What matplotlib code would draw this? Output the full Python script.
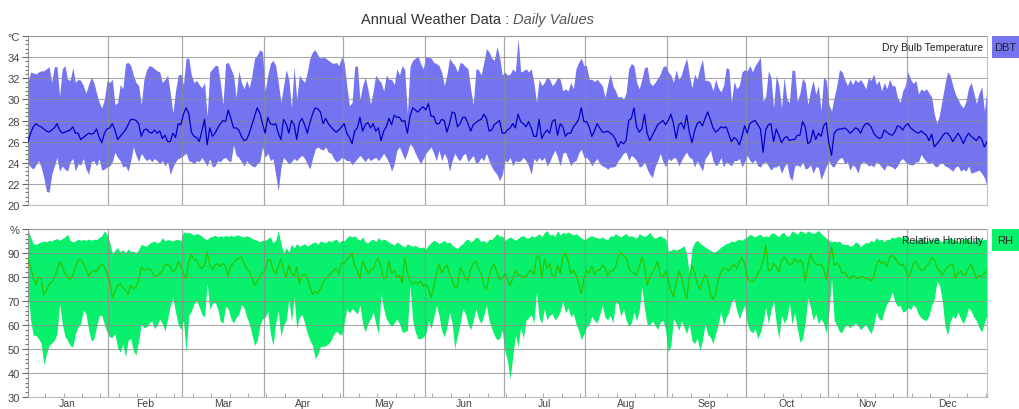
import numpy as np
import matplotlib
matplotlib.use("Agg")
import matplotlib.pyplot as plt
from matplotlib.ticker import MultipleLocator
from matplotlib.patches import Rectangle

months = ["Jan", "Feb", "Mar", "Apr", "May", "Jun", "Jul", "Aug", "Sep", "Oct", "Nov", "Dec"]
days_in_month = [31, 28, 31, 30, 31, 30, 31, 31, 30, 31, 30, 31]

# Dry bulb temperature, daily max / mean / min (degC)
dbt_max = [
    31.6,32.6,32.5,32.4,32.6,32.7,32.7,32.9,33.1,31.6,33.1,33.1,30.3,32.9,33.2,31.9,31.8,33.0,31.6,31.9,31.8,31.3,30.6,31.4,32.1,31.6,30.6,29.7,29.2,30.0,31.8,
    31.6,31.9,29.5,29.7,31.4,31.0,33.4,33.5,33.2,32.3,31.6,31.3,29.5,31.9,32.8,33.2,33.1,32.9,32.7,32.6,31.6,31.9,32.3,30.6,28.7,30.8,32.3,32.4,
    31.4,33.9,33.9,32.3,31.6,31.8,31.4,31.1,31.6,28.4,32.6,32.9,33.2,33.2,31.6,29.5,33.4,33.5,32.9,32.3,30.2,32.7,31.6,31.0,31.8,31.1,32.3,33.9,34.2,34.7,34.5,
    30.8,32.3,33.4,33.7,33.2,31.6,29.7,31.3,32.8,31.9,29.2,33.1,30.0,32.3,31.9,31.6,32.6,33.9,34.5,34.7,34.2,33.9,34.0,33.9,33.7,33.5,33.4,33.5,33.2,34.0,
    33.5,31.3,29.4,29.7,33.1,33.2,30.0,31.3,32.1,31.0,29.5,30.8,32.3,31.9,31.6,30.8,32.3,31.9,31.9,31.4,32.9,32.3,33.2,32.8,28.6,33.1,33.7,33.9,34.1,33.4,32.9,
    34.0,34.0,33.9,33.5,33.4,33.2,32.6,31.3,32.3,33.9,33.5,33.2,32.6,33.5,33.4,33.1,32.9,31.0,29.5,32.9,32.8,32.3,33.5,34.8,34.5,33.9,33.7,35.0,34.0,32.3,
    32.6,32.3,32.4,32.9,32.6,35.8,32.6,32.7,32.9,32.6,32.9,31.6,29.7,31.9,31.3,31.6,32.1,31.9,31.3,31.6,32.1,31.9,30.8,31.0,30.8,31.6,31.0,32.9,33.5,33.9,33.2,
    33.2,31.9,31.9,31.7,31.9,31.6,31.3,30.2,31.4,32.4,31.3,30.8,30.2,30.3,30.0,30.6,32.9,33.4,33.2,31.6,31.0,31.9,33.0,33.1,31.6,31.3,31.6,32.0,32.4,33.1,33.2,
    32.6,32.3,31.6,32.8,31.9,32.3,33.2,33.9,32.3,31.1,32.4,31.9,33.0,33.8,31.8,31.8,31.6,30.8,31.9,31.1,30.7,31.3,33.0,32.9,29.7,31.7,31.0,31.3,32.6,32.8,
    32.7,33.2,32.6,33.2,33.6,34.0,29.8,30.3,32.7,32.1,29.2,32.3,31.3,29.2,32.1,30.0,29.7,32.8,32.7,29.8,30.6,32.0,31.6,29.5,30.8,31.8,30.5,31.3,28.9,32.1,31.8,
    29.5,28.9,30.2,31.3,32.8,32.6,31.9,31.3,31.9,31.4,31.9,31.6,31.9,31.5,31.0,32.1,31.8,32.4,31.4,31.8,30.8,31.6,31.0,31.9,31.3,31.3,30.2,29.7,30.8,31.3,
    32.6,31.9,31.5,31.8,30.5,31.0,30.8,31.0,30.6,30.2,28.6,27.7,28.6,30.0,31.4,32.6,32.3,31.3,30.5,30.0,29.5,29.2,29.8,31.1,31.6,30.6,29.6,30.6,31.2,28.9,31.0,
]
dbt_mean = [
    26.0,26.8,27.4,27.7,27.5,27.4,27.2,27.0,26.9,27.1,27.3,27.7,27.1,26.8,26.9,27.0,27.1,27.4,26.8,26.8,26.2,26.4,26.6,26.8,26.7,26.8,27.2,26.4,25.9,26.8,27.2,
    27.3,27.7,27.1,26.2,26.5,26.8,27.1,27.6,28.1,28.1,28.0,27.7,26.5,27.1,27.2,26.9,26.8,27.1,26.8,27.0,26.3,26.6,26.0,26.0,26.8,26.4,27.7,27.6,
    28.6,29.2,28.7,26.9,26.5,26.4,26.0,27.0,28.1,25.7,27.3,26.5,26.8,27.3,27.7,28.0,27.9,29.0,28.2,27.3,27.3,27.1,26.5,26.1,26.2,26.8,27.6,28.4,29.2,28.7,27.7,
    26.8,28.3,27.7,27.6,27.7,26.8,26.2,28.1,27.7,26.8,28.0,27.6,26.2,27.8,28.2,27.6,26.8,27.8,28.6,29.2,29.1,28.8,27.7,28.2,27.7,27.4,27.1,26.9,27.1,27.4,
    27.7,26.8,26.4,25.8,27.0,27.3,28.3,27.0,27.6,27.8,27.3,27.7,27.0,27.3,26.1,27.0,27.4,28.2,27.6,28.5,28.3,28.3,27.9,28.0,26.8,28.4,29.2,29.0,28.8,29.1,29.3,
    29.0,29.6,28.4,28.4,27.7,27.7,28.1,28.0,26.9,27.7,28.8,28.7,27.4,27.7,28.3,28.3,27.7,27.0,27.6,27.8,28.0,28.1,28.6,28.2,27.0,27.1,27.6,27.8,28.0,26.8,
    26.8,27.1,27.3,27.7,27.3,28.6,27.9,27.7,27.4,27.9,27.3,26.5,26.5,28.1,26.3,26.8,27.1,26.8,27.9,28.1,26.6,27.7,27.4,26.5,26.8,26.8,27.4,27.7,28.1,29.2,27.9,
    27.9,27.4,26.5,27.0,27.7,27.3,26.9,26.9,27.0,26.8,26.6,26.2,25.5,26.0,25.8,26.1,28.0,28.2,29.2,27.4,26.9,27.2,28.6,26.8,26.1,26.6,27.1,27.6,27.8,28.0,27.6,
    28.0,28.6,27.7,26.3,27.6,27.8,27.2,28.5,26.9,25.9,27.0,27.7,27.9,27.5,28.2,28.8,28.1,27.3,26.9,27.1,27.4,27.3,27.4,26.7,26.0,26.4,26.2,25.7,26.5,27.5,
    26.8,27.7,27.9,28.0,27.6,27.2,25.0,27.1,27.6,27.7,26.0,27.2,26.6,25.9,26.3,26.5,26.1,26.2,26.2,26.6,26.6,27.9,27.4,25.8,26.0,27.1,26.2,26.8,26.5,27.5,27.8,
    25.8,24.7,26.8,27.1,27.2,27.2,27.3,27.1,26.8,27.0,27.3,27.2,26.8,27.4,27.7,27.7,27.4,26.8,26.5,26.3,26.4,27.1,26.9,26.7,26.6,26.9,27.5,27.4,27.1,27.5,
    27.7,27.3,27.1,26.9,26.8,27.0,26.8,26.6,26.1,26.7,25.5,25.8,26.1,26.5,26.8,26.8,26.5,26.0,26.4,26.8,26.4,25.8,26.4,26.8,26.5,26.3,26.1,26.5,26.2,25.5,26.0,
]
dbt_min = [
    23.9,23.6,23.4,23.8,24.2,23.6,22.6,21.3,21.2,22.9,23.7,24.5,23.2,23.7,23.4,23.2,24.1,24.4,23.2,23.9,23.8,24.4,23.4,22.9,24.1,24.2,23.7,24.4,23.3,23.4,23.6,
    23.7,24.1,25.0,24.5,24.2,23.6,23.7,23.2,24.2,25.5,24.7,24.1,24.9,24.5,24.2,24.4,24.1,24.4,24.2,23.9,24.2,23.7,24.1,22.9,23.6,24.1,24.4,24.5,
    24.7,24.9,24.2,24.1,23.9,24.2,24.1,24.5,24.1,23.7,24.4,23.6,23.7,24.2,24.1,24.4,24.5,24.2,24.1,25.7,24.7,24.5,24.1,23.7,24.2,23.9,23.7,23.6,23.9,24.1,25.5,
    24.5,24.9,24.2,24.4,22.9,21.3,23.6,24.5,24.2,23.9,24.1,24.4,24.2,24.5,24.7,24.4,23.9,23.4,24.4,25.3,25.5,25.3,25.2,25.5,25.0,24.9,24.4,24.1,24.2,24.5,
    24.4,24.2,24.2,23.8,24.1,24.4,24.7,24.4,24.1,24.5,24.2,24.4,24.5,24.2,24.5,24.9,24.5,24.0,23.2,23.9,25.2,25.5,24.9,24.3,25.0,25.8,25.5,24.9,24.4,23.9,24.4,
    24.9,25.2,25.5,24.9,24.2,25.2,24.2,24.9,24.4,23.2,24.2,24.9,24.4,24.2,24.7,24.9,24.1,24.4,24.7,23.9,24.1,24.5,24.2,24.9,24.2,23.6,23.2,22.9,22.3,22.9,
    24.2,24.1,24.5,23.7,24.2,24.1,24.2,24.5,24.2,23.7,22.9,24.4,24.1,24.5,24.2,24.5,23.7,24.1,24.7,25.2,24.5,23.7,24.9,25.0,24.4,23.7,24.1,24.2,24.9,25.3,24.5,
    24.5,24.2,23.7,24.1,24.4,23.9,23.7,23.6,23.4,23.6,23.6,23.7,24.2,24.5,24.9,25.0,24.2,24.7,24.5,24.2,23.6,23.7,24.1,23.4,22.9,22.6,23.6,24.2,24.9,24.1,23.6,
    24.4,24.2,24.5,24.4,23.7,24.2,24.7,25.0,24.5,24.4,23.6,24.2,23.7,23.2,24.4,24.7,25.2,24.2,23.7,23.9,24.5,23.6,24.1,23.9,23.7,24.2,24.2,24.4,23.6,24.1,
    24.7,24.2,24.0,24.3,23.7,23.6,24.0,24.1,23.7,23.3,23.6,23.6,23.8,23.0,23.6,24.0,22.7,22.3,23.7,23.8,23.6,24.1,23.4,23.5,23.8,23.0,23.6,23.6,22.4,23.0,23.7,
    24.2,23.7,23.6,24.1,24.4,24.5,23.9,24.1,23.3,23.8,23.6,23.0,23.9,24.1,24.0,23.7,23.8,23.6,24.1,23.9,23.6,23.3,23.8,23.7,23.6,23.4,23.7,24.2,24.4,24.1,
    23.9,23.8,23.8,24.1,24.1,24.8,24.4,24.1,23.9,24.1,23.7,23.6,23.9,24.0,23.7,23.6,23.4,23.2,23.6,23.7,23.2,23.4,23.2,23.7,23.0,23.1,23.2,23.3,23.0,22.6,21.8,
]

# Relative humidity, daily max / mean / min (%)
rh_max = [
    99.4,96.7,93.9,93.6,94.2,94.6,95.0,94.6,95.3,95.0,95.6,96.0,95.3,96.0,96.7,97.8,95.3,94.6,95.0,95.8,95.3,95.6,95.3,95.8,95.3,95.8,95.6,96.4,97.2,99.2,97.8,
    94.6,89.7,91.1,92.2,90.4,91.4,90.0,91.7,90.6,90.8,90.0,91.4,93.6,93.1,92.8,93.9,94.6,95.0,94.2,94.6,96.4,95.0,95.6,95.3,95.0,95.6,95.6,95.0,
    98.8,98.4,98.6,98.1,97.5,98.1,97.8,96.9,96.0,95.6,96.7,96.9,97.4,96.7,97.2,96.7,97.4,96.9,97.4,96.9,97.4,97.5,96.9,96.7,97.2,96.7,96.1,95.6,95.3,94.7,95.3,
    95.3,96.0,96.7,94.2,95.3,99.2,93.9,90.0,92.2,90.4,93.6,92.2,93.9,92.8,93.3,93.9,92.8,93.6,94.2,94.6,93.6,95.0,94.6,94.2,95.3,94.7,95.3,95.8,94.2,95.3,
    95.0,96.4,97.2,96.7,97.2,96.0,95.3,96.7,94.6,94.2,95.3,95.8,94.7,96.4,95.3,95.8,95.3,94.4,93.9,93.3,94.6,93.9,93.1,92.5,93.9,93.2,92.8,93.2,92.5,92.2,92.5,
    91.7,93.2,94.4,95.3,94.7,93.9,94.6,95.3,94.2,94.6,93.3,92.5,91.8,93.1,93.9,95.3,95.8,94.6,95.3,96.7,96.1,94.7,95.3,94.2,95.8,95.6,96.7,98.1,96.9,97.2,
    95.3,96.0,96.7,96.0,95.3,96.1,96.9,97.2,96.4,96.1,97.2,96.7,97.2,98.1,96.7,98.4,99.4,97.5,97.8,96.9,99.2,97.5,98.6,98.1,98.8,98.1,97.5,98.1,97.2,96.4,95.6,
    96.0,96.9,97.2,96.7,96.4,96.0,96.7,95.8,95.6,97.2,96.9,98.1,97.2,96.7,97.5,98.1,96.9,97.2,96.7,96.1,98.1,97.4,96.9,97.5,98.6,96.9,96.1,96.7,97.2,96.4,96.0,
    90.8,91.1,91.7,91.1,91.7,92.2,93.1,89.7,81.4,91.8,94.4,95.3,94.2,93.3,92.5,91.8,91.1,90.4,90.6,91.4,92.5,93.2,93.9,94.2,95.0,94.7,95.3,95.8,95.3,96.1,
    96.7,97.8,97.2,96.7,97.5,97.8,96.7,97.2,96.7,98.1,98.4,97.5,96.7,98.4,98.4,96.9,97.2,99.2,98.6,97.8,99.2,98.9,98.1,99.2,98.6,98.1,98.6,99.4,98.1,97.2,96.1,
    95.3,94.6,95.0,94.6,95.0,93.6,93.6,93.6,92.8,93.1,94.6,94.2,92.5,93.6,94.4,94.2,95.3,94.7,96.4,95.3,95.8,94.7,95.8,95.6,96.7,96.1,96.9,96.7,96.1,97.2,
    96.0,94.6,95.3,95.8,95.3,96.4,95.8,94.6,95.6,95.8,95.3,96.4,95.3,94.6,95.8,95.3,96.4,95.8,95.3,94.6,95.8,95.6,96.4,95.8,95.0,94.6,96.0,96.4,95.3,95.8,95.3,
]
rh_mean = [
    87.6,84.2,79.7,76.9,80.0,79.3,72.4,74.4,76.9,77.9,79.7,82.8,86.3,84.4,81.4,80.7,78.6,80.7,84.2,86.9,87.2,85.8,83.5,80.3,82.1,82.8,82.1,84.4,85.3,84.2,81.4,
    78.6,71.4,73.8,76.5,77.2,75.6,74.7,72.8,76.5,75.1,75.8,78.6,84.2,83.1,83.1,83.5,82.5,80.0,80.7,81.4,82.8,84.9,85.3,84.4,82.1,83.1,86.3,84.9,
    81.4,79.3,86.3,89.4,87.2,87.2,84.4,83.5,84.9,90.4,84.9,83.1,84.9,85.6,84.4,85.6,84.4,80.7,84.4,85.8,87.2,87.8,88.3,85.6,83.5,82.1,79.7,76.5,78.3,80.3,81.7,
    82.8,86.9,87.2,83.1,81.4,84.4,87.6,82.8,80.0,84.9,81.7,80.3,84.2,77.2,80.7,81.1,79.7,75.8,72.8,73.8,73.3,75.1,77.9,79.3,80.3,81.4,82.8,83.5,81.4,85.8,
    85.8,87.2,88.3,90.0,84.2,82.8,79.3,86.7,84.4,81.4,82.8,83.1,86.3,87.6,84.2,79.3,79.7,86.7,81.4,82.8,79.7,80.7,77.5,88.1,81.7,78.3,77.2,77.8,77.2,78.3,76.1,
    76.9,75.1,71.4,75.6,81.4,85.3,81.7,83.5,84.9,81.4,78.6,75.8,75.8,83.9,82.1,79.3,78.6,83.1,85.6,86.7,83.5,81.4,76.5,74.7,80.3,83.9,85.3,81.7,78.9,79.7,
    81.4,78.9,76.5,79.3,82.8,80.7,80.7,79.7,80.0,82.1,82.8,81.1,88.3,89.0,79.3,87.6,83.5,85.6,80.7,80.0,84.9,81.4,88.1,90.0,86.7,81.4,82.8,80.7,77.2,72.8,79.3,
    82.8,81.4,84.4,81.1,82.8,82.8,84.9,83.9,80.3,82.5,82.5,84.2,88.1,90.3,89.0,88.1,84.2,82.1,81.7,80.7,84.4,88.3,84.4,76.5,80.0,81.7,84.2,86.3,80.7,80.0,82.5,
    79.3,74.4,71.7,77.5,82.5,80.0,75.1,71.0,79.3,84.9,82.1,77.2,74.7,78.3,81.1,78.9,73.1,70.6,73.1,78.9,82.1,83.9,83.5,82.5,84.2,85.3,83.5,86.3,88.1,85.6,
    80.0,78.3,77.9,78.9,81.4,83.1,86.9,93.2,82.8,82.8,85.8,84.2,82.1,86.7,88.3,86.9,85.0,85.6,87.6,86.0,87.2,85.6,78.3,84.9,89.7,86.7,85.6,84.9,85.3,83.5,78.9,
    85.6,92.5,84.9,85.8,84.4,81.4,82.1,80.3,79.3,80.7,80.0,79.3,80.0,80.0,79.3,79.3,78.3,80.0,84.9,87.2,85.6,86.4,84.4,88.3,88.9,88.1,86.3,84.9,85.3,83.5,
    80.0,81.7,85.3,86.7,84.4,82.8,82.8,84.4,85.6,88.1,87.2,84.0,82.8,80.7,82.5,84.2,84.9,85.3,79.3,81.7,82.5,80.7,81.4,84.0,85.3,82.5,79.3,80.7,80.3,81.4,82.5,
]
rh_min = [
    74.0,62.0,55.7,55.7,54.3,52.5,43.5,48.0,51.5,52.5,53.6,56.4,68.9,60.6,55.3,53.6,51.5,50.8,56.4,59.2,60.6,66.1,64.7,58.1,53.3,54.3,59.2,64.0,64.0,60.3,57.1,
    55.0,55.0,56.4,50.6,48.7,52.2,46.7,53.6,54.3,49.4,47.4,53.6,60.6,58.9,59.2,60.8,61.7,58.5,59.9,62.6,60.6,57.5,62.6,68.2,71.4,65.4,60.3,58.1,
    61.9,48.7,64.0,65.8,68.9,70.0,67.5,64.4,63.3,77.5,66.4,69.2,69.6,66.8,61.7,60.8,67.8,66.8,62.6,60.8,63.1,64.4,68.6,67.2,63.3,60.6,56.1,51.5,53.6,59.9,62.6,
    63.3,65.8,56.4,51.5,60.6,65.8,55.3,59.9,61.9,71.0,61.3,71.7,58.5,63.3,64.4,60.8,56.7,53.6,51.5,46.0,47.8,51.1,51.1,51.4,52.2,53.6,56.1,57.5,56.4,55.7,
    60.6,66.8,65.0,66.8,65.8,64.7,68.2,60.6,57.1,60.6,62.6,65.4,60.6,56.4,73.1,66.8,62.6,60.8,59.4,60.8,62.6,60.6,57.1,57.1,57.8,76.5,61.9,57.1,54.3,54.3,55.0,
    56.4,61.9,58.5,63.3,68.2,64.0,57.8,55.0,59.2,65.4,60.6,50.1,55.7,60.6,66.8,64.7,60.6,58.1,61.9,66.8,62.6,60.6,64.0,68.2,61.9,58.5,55.7,53.9,54.3,57.8,
    49.4,45.0,37.5,47.0,56.0,51.0,59.2,54.3,61.9,63.0,64.4,60.8,73.8,63.0,60.8,66.8,62.2,64.0,64.7,62.2,63.3,65.8,70.0,65.0,67.2,63.6,64.7,60.6,57.8,53.9,56.1,
    59.2,60.3,63.6,61.9,60.8,64.4,68.2,63.3,62.2,64.0,60.8,69.6,68.9,63.6,66.8,62.2,59.4,60.8,65.4,61.7,66.1,75.6,66.8,60.3,59.9,61.7,59.9,58.1,61.3,61.9,58.1,
    48.7,51.5,62.6,60.6,57.8,61.7,59.2,56.4,60.6,53.6,52.2,54.7,49.4,53.6,60.6,56.1,55.0,52.2,56.4,60.6,65.8,59.9,63.3,65.4,69.6,71.0,66.1,62.6,65.8,68.2,
    60.6,57.8,56.7,58.5,54.3,57.1,61.3,67.2,60.6,66.1,70.0,60.8,54.3,64.0,60.8,62.6,69.3,60.3,65.4,58.5,52.9,54.3,61.3,71.4,67.5,61.9,64.7,60.6,62.6,60.6,56.4,
    65.4,79.3,61.9,59.9,57.1,57.1,59.4,59.9,58.9,59.9,60.8,59.9,58.1,59.2,60.3,58.1,56.4,59.9,65.4,62.6,61.9,65.8,68.9,70.6,73.8,70.0,67.8,68.2,65.4,65.8,
    67.2,66.4,68.6,67.2,64.4,63.0,62.2,61.9,64.0,68.2,71.0,78.3,76.5,70.3,59.9,55.7,61.3,64.0,62.6,65.4,62.6,60.6,63.3,67.2,65.8,63.3,61.7,58.9,57.1,60.8,64.0,
]

plt.rcParams['font.family'] = ['Liberation Sans', 'DejaVu Sans']

W, H = 1019, 410
fig = plt.figure(figsize=(W / 100, H / 100), dpi=100)
fig.patch.set_facecolor('white')

days = np.arange(len(dbt_max)) + 0.5
month_starts = np.cumsum([0] + days_in_month)
month_mid = month_starts[:-1] + np.array(days_in_month) / 2.0

blue_fill = '#7474F0'
blue_line = '#0000C8'
green_fill = '#08F06C'
green_line = '#2CC400'
grid_col = '#8c8c8c'


def style_axis(ax, yticks, ylabels, ymin, ymax, minor_step):
    ax.set_xlim(0.5, 364.5)
    ax.set_ylim(ymin, ymax)
    ax.set_yticks(yticks)
    ax.set_yticklabels(ylabels)
    ax.yaxis.set_minor_locator(MultipleLocator(minor_step))
    ax.tick_params(axis='y', which='major', length=4, width=0.8, color='#666666',
                   labelsize=8, labelcolor='#444444', pad=2)
    ax.tick_params(axis='y', which='minor', length=2, width=0.8, color='#777777')
    ax.grid(axis='y', which='major', color=grid_col, lw=0.8, alpha=0.75)
    ax.set_axisbelow(False)
    for m in month_starts[1:-1]:
        ax.axvline(m, color=grid_col, lw=0.9, alpha=0.75, zorder=2.5)
    for s in ax.spines.values():
        s.set_color('#c0c0c0')
        s.set_linewidth(0.8)
    ax.spines['left'].set_color('#999999')


# top panel: dry bulb temperature
ax1 = fig.add_axes([28 / W, 1 - 206 / H, 959 / W, 169 / H])
ax1.fill_between(days, dbt_min, dbt_max, color=blue_fill, lw=0, zorder=1)
ax1.plot(days, dbt_mean, color=blue_line, lw=0.9, zorder=3)
style_axis(ax1, list(range(20, 37, 2)), [str(v) for v in range(20, 35, 2)] + ['°C'], 20, 36, 0.4)
ax1.set_xticks([])
ax1.text(0.996, 0.935, 'Dry Bulb Temperature', transform=ax1.transAxes,
         ha='right', va='center', fontsize=7.5, color='#222222', zorder=4)

# bottom panel: relative humidity
ax2 = fig.add_axes([28 / W, 1 - 398 / H, 959 / W, 168 / H])
ax2.fill_between(days, rh_min, rh_max, color=green_fill, lw=0, zorder=1)
ax2.plot(days, rh_mean, color=green_line, lw=0.9, zorder=3)
style_axis(ax2, list(range(30, 101, 10)), [str(v) for v in range(30, 91, 10)] + ['%'], 30, 100, 2)
ax2.set_xticks(month_mid)
ax2.set_xticklabels(months)
ax2.xaxis.set_minor_locator(MultipleLocator(7))
ax2.tick_params(axis='x', which='major', length=0, labelsize=7.5, labelcolor='#444444', pad=1)
ax2.tick_params(axis='x', which='minor', direction='in', length=3, width=0.7, color='#aaaaaa')
ax2.text(0.996, 0.935, 'Relative Humidity', transform=ax2.transAxes,
         ha='right', va='center', fontsize=7.5, color='#222222', zorder=4)

# legend boxes right of the panels
for y_top, label, col in [(37, 'DBT', blue_fill), (230, 'RH', green_fill)]:
    fig.patches.append(Rectangle((992 / W, 1 - (y_top + 22) / H), 27 / W, 22 / H,
                                 transform=fig.transFigure, facecolor=col, edgecolor='none'))
    fig.text(1005.5 / W, 1 - (y_top + 11) / H, label, ha='center', va='center',
             fontsize=8, color='#222222')

# title
fig.text(509 / W, 1 - 20 / H, 'Annual Weather Data :', ha='right', va='center',
         fontsize=10.5, color='#333333')
fig.text(513 / W, 1 - 20 / H, 'Daily Values', ha='left', va='center',
         fontsize=10.5, color='#555555', style='italic')

fig.savefig('out.png', dpi=100)
